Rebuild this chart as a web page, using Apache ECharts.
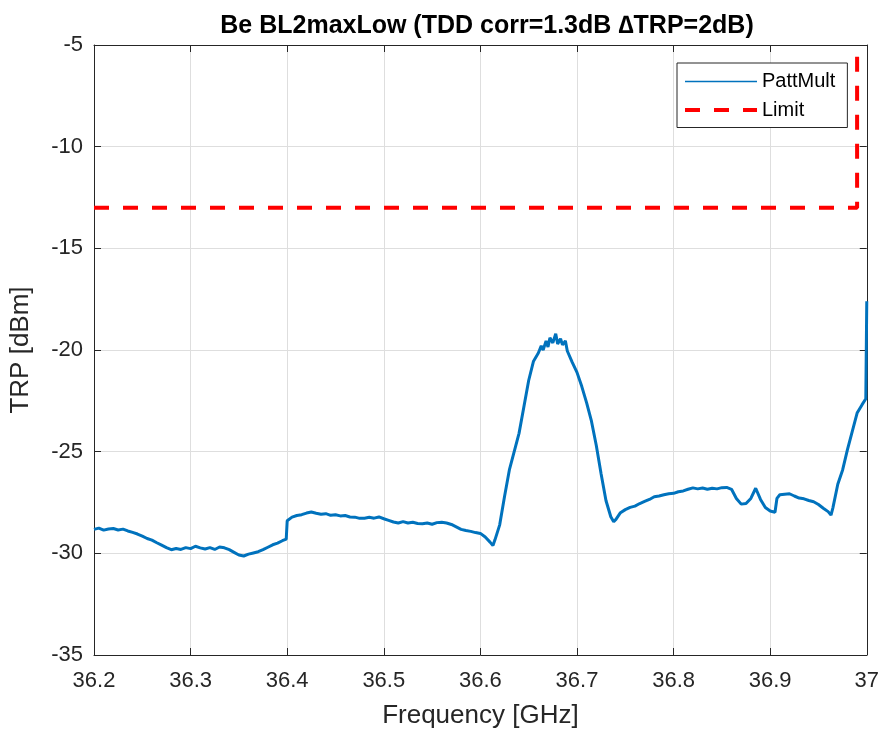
<!DOCTYPE html>
<html>
<head>
<meta charset="utf-8">
<title>Be BL2maxLow TRP</title>
<script src="https://cdn.jsdelivr.net/npm/echarts@6/dist/echarts.min.js"></script>
<style>
  html, body { margin: 0; padding: 0; background: #fff; }
  #chart { width: 882px; height: 738px; }
</style>
</head>
<body>
<div id="chart"></div>
<script>
// Measured TRP trace (frequency in GHz, TRP in dBm)
const freqGHz = [
  36.200, 36.205, 36.210, 36.215, 36.220, 36.225, 36.230, 36.235, 36.240, 36.245,
  36.250, 36.255, 36.260, 36.265, 36.270, 36.275, 36.280, 36.285, 36.290, 36.295,
  36.300, 36.305, 36.310, 36.315, 36.320, 36.325, 36.330, 36.335, 36.340, 36.345,
  36.350, 36.355, 36.360, 36.365, 36.370, 36.375, 36.380, 36.385, 36.390, 36.395,
  36.399, 36.400, 36.405, 36.410, 36.415, 36.420, 36.425, 36.430, 36.435, 36.440,
  36.445, 36.450, 36.455, 36.460, 36.465, 36.470, 36.475, 36.480, 36.485, 36.490,
  36.495, 36.500, 36.505, 36.510, 36.515, 36.520, 36.525, 36.530, 36.535, 36.540,
  36.545, 36.550, 36.555, 36.560, 36.565, 36.570, 36.575, 36.580, 36.585, 36.590,
  36.595, 36.600, 36.605, 36.610, 36.613, 36.615, 36.620, 36.625, 36.630, 36.635,
  36.640, 36.645, 36.650, 36.655, 36.660, 36.663, 36.665, 36.668, 36.670, 36.672,
  36.675, 36.678, 36.680, 36.683, 36.685, 36.688, 36.690, 36.695, 36.700, 36.705,
  36.710, 36.715, 36.720, 36.725, 36.730, 36.735, 36.738, 36.740, 36.745, 36.750,
  36.755, 36.760, 36.765, 36.770, 36.775, 36.780, 36.785, 36.790, 36.795, 36.800,
  36.805, 36.810, 36.815, 36.820, 36.825, 36.830, 36.835, 36.840, 36.845, 36.850,
  36.855, 36.860, 36.865, 36.870, 36.875, 36.880, 36.885, 36.890, 36.895, 36.900,
  36.905, 36.907, 36.910, 36.915, 36.920, 36.925, 36.930, 36.935, 36.940, 36.945,
  36.950, 36.955, 36.960, 36.963, 36.965, 36.970, 36.975, 36.980, 36.985, 36.990,
  36.995, 36.999, 37.000
];
const trpPattMult = [
  -28.82, -28.76, -28.86, -28.80, -28.78, -28.85, -28.81, -28.90, -28.97, -29.05,
  -29.15, -29.27, -29.35, -29.48, -29.60, -29.72, -29.82, -29.76, -29.81, -29.72,
  -29.77, -29.65, -29.73, -29.79, -29.72, -29.81, -29.69, -29.73, -29.82, -29.95,
  -30.08, -30.13, -30.04, -29.98, -29.92, -29.82, -29.70, -29.58, -29.50, -29.38,
  -29.30, -28.40, -28.22, -28.14, -28.10, -28.02, -27.97, -28.03, -28.08, -28.05,
  -28.13, -28.10, -28.16, -28.14, -28.21, -28.22, -28.28, -28.27, -28.23, -28.27,
  -28.21, -28.30, -28.38, -28.46, -28.51, -28.44, -28.51, -28.47, -28.53, -28.55,
  -28.51, -28.57, -28.49, -28.47, -28.51, -28.58, -28.70, -28.82, -28.88, -28.92,
  -28.98, -29.02, -29.20, -29.45, -29.62, -29.35, -28.60, -27.20, -25.90, -25.00,
  -24.10, -22.80, -21.50, -20.55, -20.15, -19.80, -20.00, -19.55, -19.85, -19.40,
  -19.65, -19.20, -19.70, -19.45, -19.75, -19.55, -20.05, -20.60, -21.10, -21.80,
  -22.60, -23.50, -24.70, -26.10, -27.40, -28.20, -28.45, -28.35, -28.00, -27.85,
  -27.74, -27.68, -27.55, -27.45, -27.35, -27.22, -27.18, -27.12, -27.07, -27.05,
  -26.97, -26.93, -26.85, -26.78, -26.83, -26.79, -26.85, -26.80, -26.83, -26.77,
  -26.76, -26.85, -27.30, -27.58, -27.55, -27.30, -26.80, -27.35, -27.75, -27.92,
  -27.98, -27.30, -27.12, -27.09, -27.07, -27.18, -27.28, -27.32, -27.40, -27.46,
  -27.60, -27.78, -27.95, -28.12, -27.75, -26.60, -25.90, -24.90, -24.00, -23.10,
  -22.70, -22.40, -17.60
];

// Emission limit mask
const limitFreqGHz = [36.2, 36.99, 36.99];
const limitTrp = [-13, -13, -5];

// Axis ticks
const freqTicks = ['36.2', '36.3', '36.4', '36.5', '36.6', '36.7', '36.8', '36.9', '37'];
const trpTicks = ['-35', '-30', '-25', '-20', '-15', '-10', '-5'];

const seriesNames = ['PattMult', 'Limit'];
const titleText = 'Be BL2maxLow (TDD corr=1.3dB \u2206TRP=2dB)';

const pair = (xs, ys) => xs.map((x, i) => [x, ys[i]]);

const axisColor = '#262626';
const gridColor = '#dedede';
const fontFamily = '"Liberation Sans", Arial, Helvetica, sans-serif';
const limitDash = [15, 14];

const xLabel = v => freqTicks[Math.round((v - 36.2) / 0.1)];
const yLabel = v => trpTicks[Math.round((v + 35) / 5)];

const baseX = {
  type: 'value', min: 36.2, max: 37, interval: 0.1,
  axisLine: { show: true, onZero: false, lineStyle: { color: axisColor, width: 1 } },
  axisTick: { show: true, inside: true, length: 7, lineStyle: { color: axisColor } },
  splitLine: { show: false }
};
const baseY = {
  type: 'value', min: -35, max: -5, interval: 5,
  axisLine: { show: true, onZero: false, lineStyle: { color: axisColor, width: 1 } },
  axisTick: { show: true, inside: true, length: 7, lineStyle: { color: axisColor } },
  splitLine: { show: false }
};

const chart = echarts.init(document.getElementById('chart'), null, { renderer: 'canvas' });
chart.setOption({
  animation: false,
  backgroundColor: '#ffffff',
  textStyle: { fontFamily: fontFamily },
  title: {
    text: titleText,
    left: 482, top: 9, textAlign: 'center',
    textStyle: { fontFamily: fontFamily, fontSize: 25, fontWeight: 'bold', color: '#000' }
  },
  grid: { left: 93, right: 15, top: 45, bottom: 83, containLabel: false },
  legend: {
    data: [
      { name: seriesNames[0], lineStyle: { width: 1.5 } },
      { name: seriesNames[1], lineStyle: { width: 4, type: limitDash } }
    ],
    orient: 'vertical',
    left: 677, top: 63,
    padding: [8, 12, 7, 6],
    itemWidth: 72, itemHeight: 21, itemGap: 7.5,
    backgroundColor: '#ffffff',
    borderColor: axisColor, borderWidth: 1,
    itemStyle: { opacity: 0 },
    textStyle: { fontFamily: fontFamily, fontSize: 20, color: '#000', lineHeight: 21 }
  },
  xAxis: [
    Object.assign({}, baseX, {
      position: 'bottom',
      name: 'Frequency [GHz]', nameLocation: 'middle', nameGap: 48,
      nameTextStyle: { fontFamily: fontFamily, fontSize: 26, color: axisColor },
      axisLabel: { show: true, margin: 15, fontSize: 22, color: axisColor, formatter: xLabel },
      splitLine: { show: true, lineStyle: { color: gridColor, width: 1 } }
    }),
    Object.assign({}, baseX, { position: 'top', axisLabel: { show: false } })
  ],
  yAxis: [
    Object.assign({}, baseY, {
      position: 'left',
      name: 'TRP [dBm]', nameLocation: 'middle', nameGap: 60,
      nameTextStyle: { fontFamily: fontFamily, fontSize: 26, color: axisColor },
      axisLabel: { show: true, margin: 11, fontSize: 22, color: axisColor, formatter: yLabel },
      splitLine: { show: true, lineStyle: { color: gridColor, width: 1 } }
    }),
    Object.assign({}, baseY, { position: 'right', axisLabel: { show: false } })
  ],
  series: [
    {
      name: seriesNames[0], type: 'line',
      xAxisIndex: 0, yAxisIndex: 0,
      data: pair(freqGHz, trpPattMult),
      symbol: 'none', showSymbol: false,
      lineStyle: { color: '#0072BD', width: 3 },
      itemStyle: { color: '#0072BD' },
      z: 3
    },
    {
      name: seriesNames[1], type: 'line',
      xAxisIndex: 0, yAxisIndex: 0,
      data: pair(limitFreqGHz, limitTrp),
      symbol: 'none', showSymbol: false,
      lineStyle: { color: '#ff0000', width: 4, type: limitDash },
      itemStyle: { color: '#ff0000' },
      z: 4
    }
  ]
});
</script>
</body>
</html>
